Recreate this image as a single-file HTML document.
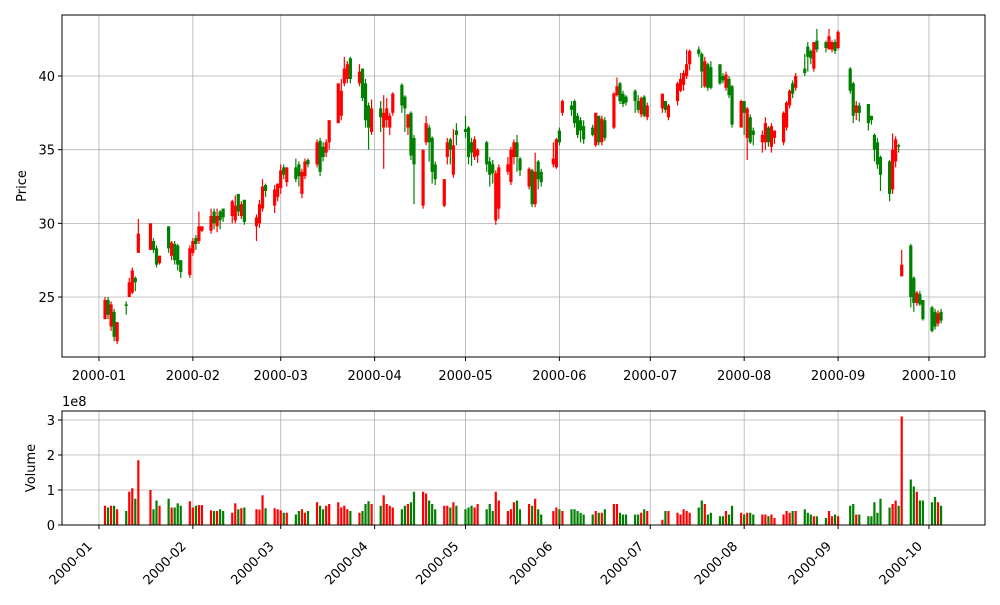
<!DOCTYPE html>
<html><head><meta charset="utf-8"><style>
html,body{margin:0;padding:0;background:#fff;}
svg text{font-family:"DejaVu Sans","Liberation Sans",sans-serif;font-size:13px;fill:#000;}
</style></head><body>
<svg id="chart" width="1000" height="600" viewBox="0 0 1000 600" xmlns="http://www.w3.org/2000/svg">
<rect width="1000" height="600" fill="#fff"/>
<g id="grid"></g><g id="marks"></g><g id="axes"></g>
</svg>
<script>
const dates=["01-03","01-04","01-05","01-06","01-07","01-10","01-11","01-12","01-13","01-14","01-18","01-19","01-20","01-21","01-24","01-25","01-26","01-27","01-28","01-31","02-01","02-02","02-03","02-04","02-07","02-08","02-09","02-10","02-11","02-14","02-15","02-16","02-17","02-18","02-22","02-23","02-24","02-25","02-28","02-29","03-01","03-02","03-03","03-06","03-07","03-08","03-09","03-10","03-13","03-14","03-15","03-16","03-17","03-20","03-21","03-22","03-23","03-24","03-27","03-28","03-29","03-30","03-31","04-03","04-04","04-05","04-06","04-07","04-10","04-11","04-12","04-13","04-14","04-17","04-18","04-19","04-20","04-21","04-24","04-25","04-26","04-27","04-28","05-01","05-02","05-03","05-04","05-05","05-08","05-09","05-10","05-11","05-12","05-15","05-16","05-17","05-18","05-19","05-22","05-23","05-24","05-25","05-26","05-30","05-31","06-01","06-02","06-05","06-06","06-07","06-08","06-09","06-12","06-13","06-14","06-15","06-16","06-19","06-20","06-21","06-22","06-23","06-26","06-27","06-28","06-29","06-30","07-05","07-06","07-07","07-10","07-11","07-12","07-13","07-14","07-17","07-18","07-19","07-20","07-21","07-24","07-25","07-26","07-27","07-28","07-31","08-01","08-02","08-03","08-04","08-07","08-08","08-09","08-10","08-11","08-14","08-15","08-16","08-17","08-18","08-21","08-22","08-23","08-24","08-25","08-28","08-29","08-30","08-31","09-01","09-05","09-06","09-07","09-08","09-11","09-12","09-13","09-14","09-15","09-18","09-19","09-20","09-21","09-22","09-25","09-26","09-27","09-28","09-29","10-02","10-03","10-04","10-05"];
const opens=[23.5,24.8,23,24,22,24.5,25,25.3,26.3,28,28.2,28.8,28.3,27.3,29.8,27.8,28.6,28.5,27.5,26.5,28,29,28.8,29.5,29.5,30.8,29.8,30.8,31,30.5,30.2,32,30.5,31.6,29.8,30,31,32.6,31.2,31.8,32.4,33.8,32.8,33.8,34,32,33.2,34.3,34,35.6,35.2,34.8,35.5,36.8,37.3,39.5,39.8,41.2,39.5,40.5,39.5,38,36.2,37.8,36.5,37,36.5,37.5,39.4,38.6,36.5,37.5,35.8,31.2,35.5,36.5,35.8,34,31.2,34.5,35.7,33.3,36.3,36.4,36.5,35.5,34.5,34.6,35.5,34.2,34,30.2,31,33.5,32.8,34.5,35.5,34.4,32.5,33.6,31.3,34.2,33.5,34,33.8,36.3,37.5,38,38.3,37.3,37,36.6,36.5,35.3,37.3,35.5,37,36.5,38.7,39.5,38.8,38.6,39,38.3,37.4,38.6,37.2,37.8,38.3,37.2,38.3,39,39.4,40,40.8,41.8,41.5,39.3,40.8,40.6,40.8,40,39.2,39.8,39.3,36.5,38.3,35.8,37.2,36.3,35.5,35.5,36.5,35.2,35.8,35.5,36.5,38,39.5,39.2,40.5,42,41.7,40.5,42.4,42.3,41.8,41.8,42.3,41.9,40.5,39.5,37.5,38,38.1,37.3,36,35.5,34.5,34.2,32.3,34.2,35.3,26.4,28.5,26.3,24.6,25.2,24.8,24.3,24,23.2,24];
const highs=[25,25,24.7,24.2,23.3,24.7,26.3,27,26.4,30.3,30,29,28.5,27.8,29.8,28.8,28.8,28.6,27.5,28.5,29,29.2,30.8,29.8,31,31,31,30.9,31,31.6,31.9,32,31.5,31.6,30.6,31.6,33,32.7,32.6,32.7,34,34,33.8,34.4,34.2,33.7,34.4,34.4,35.7,35.8,35.5,35.7,37,39.5,39.8,41.3,41,41.3,40.8,40.5,39.8,38.2,38.4,38.3,38.7,38.5,37.5,38.9,39.5,38.7,37.4,37.6,36,35,37.3,36.7,35.9,34.2,33,35.8,35.8,36.4,36.8,37.3,36.6,35.8,35.9,35.1,35.6,34.5,34.3,33.6,34,34.5,35.2,35.7,36,34.5,33.8,33.7,34.8,34.3,33.7,35.5,35.8,36.5,38.4,38.3,38.4,37.5,37.2,37,36.7,37.5,37.3,37.3,37.2,38.9,39.9,39.6,39,38.7,39.1,38.7,38.6,38.7,38.2,38.8,38.3,38.1,39.6,40.2,40.4,41.8,41.8,42,41.6,41.3,40.9,41,40.8,40.2,40.3,40,39.4,38.4,38.3,37.9,37.4,36.5,36.3,37.2,36.6,36.8,36.3,37.6,38.3,39.1,39.7,40.2,41.5,42.3,41.8,42.3,43.2,42.4,43.2,42.4,42.5,43.1,40.6,39.6,38.3,38.2,38.1,37.3,36.1,35.8,34.6,34.3,36.1,35.9,35.4,28.2,28.6,26.4,25.4,25.4,24.8,24.4,24.2,24.1,24.2];
const lows=[23.5,23.5,22.7,22,21.8,23.8,25,25.2,25.4,28,28.2,28,27,27.2,28,27.5,27.2,26.8,26.3,26.3,27.8,28.2,28.6,29.4,29.3,29.6,29.4,29.6,30.1,30,30,30.5,30.3,29.9,28.8,29.7,30.8,31.8,30.7,31.5,32,33,32.5,32.8,32.5,31.7,33,33.8,33.8,33.2,34.2,34.5,35,36.8,37,39.3,39.5,39.5,39.3,38.3,36.5,35,36,36.2,33.7,36.5,36,37.3,37.5,36.2,36,34.3,31.3,31,35.3,34.2,32.7,32.6,31.1,34,34,33.1,35.3,35.8,34,33.9,34.3,34.1,33.5,32.5,32.7,29.9,30.3,33.3,32.6,34,33.5,33.2,32.3,31.1,31.1,32.3,32.5,33.8,33.7,35.3,37.3,37.3,36.5,35.8,35.5,35.4,35.9,35.2,35.3,35.3,35.6,36.4,38.6,38.1,37.9,38,37.5,37.5,37.2,37.2,37,37.5,37.5,37,38,38.9,39,39.8,40.4,41.3,39.2,39.2,39,39.1,39.4,39.5,39,38.5,36.5,36.5,36,34.3,35.4,35.3,34.8,35,35.2,34.8,35.4,35.3,36.3,37.8,38.5,39,40,40.3,40.8,40.3,41.6,41.6,41.8,41.6,41.5,41.8,38.8,36.8,37,36.9,36.3,36.7,34.2,33.7,32.2,31.5,32,33.8,34.8,26.4,24.3,24,24.4,24.4,23.4,22.6,22.8,23,23.2];
const closes=[24.8,23.8,24.5,22.3,23.3,24.4,26,26.8,26,29.3,30,28.2,27.2,27.8,28.3,28.7,27.5,27.2,26.7,28.3,28.8,28.6,29.8,29.8,30.5,30,30.5,30.2,30.4,31.5,31.2,30.8,31.3,30.1,30.4,31.3,32.5,32.2,32.3,32.7,33.6,33.3,33.8,33,33.2,33.5,34.2,34,35.5,33.5,34.5,35.5,37,39.5,39,40.5,40.8,39.8,40.3,38.5,37,36.5,37.8,37.2,37.5,37.8,37.3,38.8,38,37.8,37.4,34.6,34,35,36.8,35.5,33.5,33,33,35.5,35,35.3,36,36.2,34.5,34.8,35.7,35,34,33.3,33.4,33.4,33.8,34,35,35.5,34.5,33.6,33.7,31.3,33.5,33,32.8,34.4,35.7,35.5,38.3,37.7,36.8,36,36.3,35.7,36,37.5,35.5,37.1,35.8,38.8,39.3,38.3,38.1,38.2,38.3,37.7,38.5,37.3,38,38.8,37.7,38,39.5,39.8,40.2,40.8,41.7,41.5,40.3,41,39.2,39.2,39.5,39.7,40.1,38.7,36.7,38.3,37.5,37.8,35.5,36,36,36.8,35.5,36.6,36.3,37.5,38.2,39,38.8,40,40.2,41.3,41.2,42.3,41.8,41.9,42.7,42.3,41.7,43,39,37.3,38,37.5,36.8,37,35,34,33.3,32,35,35.7,35.2,27.2,25,24.6,25.3,24.5,23.5,22.7,23,23.9,23.4];
const volumes=[55,50,55,55,45,40,95,105,75,185,100,45,70,55,75,50,50,62,55,68,50,55,57,57,42,40,40,45,40,35,62,45,48,50,45,44,85,48,48,45,42,35,35,30,40,45,35,40,65,55,45,55,60,65,50,55,45,40,35,40,60,68,60,55,85,60,55,50,45,55,60,65,95,95,90,70,60,45,55,55,50,65,55,45,50,55,50,60,45,60,40,95,70,40,45,65,70,45,60,55,75,45,30,40,50,45,40,45,45,40,35,30,30,40,35,35,45,60,60,35,30,30,30,30,35,45,40,15,40,40,35,30,45,40,35,50,70,60,30,35,25,25,40,30,55,35,30,35,35,30,30,30,25,30,20,30,40,35,40,40,45,35,30,25,25,20,40,25,30,25,55,60,30,30,25,25,65,35,75,50,60,70,55,310,130,110,95,70,70,65,80,65,55];
const priceTicks=[25,30,35,40];
const volTicks=[0,1,2,3];
const monthTicks=["2000-01","2000-02","2000-03","2000-04","2000-05","2000-06","2000-07","2000-08","2000-09","2000-10"];

const NS="http://www.w3.org/2000/svg";
const L=62,R=985,T1=15,B1=357,T2=411,B2=525;
const D0=-12.2,D1=292.5;
function doy(str){const p=str.split("-").map(Number);const dt=Date.UTC(2000,p[0]-1,p[1]);return (dt-Date.UTC(2000,0,1))/86400000;}
function xs(d){return L+(d-D0)/(D1-D0)*(R-L);}
const P0=20.93,P1=44.14;
function yp(v){return B1-(v-P0)/(P1-P0)*(B1-T1);}
const V1=3.257;
function yv(v){return B2-(v/100)/V1*(B2-T2);}
function mk(tag,attrs,parent){const e=document.createElementNS(NS,tag);for(const k in attrs)e.setAttribute(k,attrs[k]);parent.appendChild(e);return e;}
const grid=document.getElementById('grid'),marks=document.getElementById('marks'),axes=document.getElementById('axes');

monthTicks.forEach(m=>{const x=xs(doy(m.slice(5)+"-01"));
 let g=mk('line',{x1:x,x2:x,y1:T1,y2:B1,stroke:'#b0b0b0','stroke-width':0.8},grid);
 
 g=mk('line',{x1:x,x2:x,y1:T2,y2:B2,stroke:'#b0b0b0','stroke-width':0.8},grid);
 
});
priceTicks.forEach(v=>{const y=yp(v);const g=mk('line',{x1:L,x2:R,y1:y,y2:y,stroke:'#b0b0b0','stroke-width':0.8},grid);
 });
volTicks.forEach(v=>{const y=yv(v*100);const g=mk('line',{x1:L,x2:R,y1:y,y2:y,stroke:'#b0b0b0','stroke-width':0.8},grid);
 });

dates.forEach((d,i)=>{
 const x=xs(doy(d));const up=closes[i]>=opens[i];const col=up?'#ff0000':'#008000';
 const w=mk('line',{x1:x,x2:x,y1:yp(highs[i]),y2:yp(lows[i]),stroke:col,'stroke-width':1.2},marks);
 
 const yt=yp(Math.max(opens[i],closes[i])),yb=yp(Math.min(opens[i],closes[i]));
 const b=mk('rect',{x:x-1.6,y:yt,width:3.2,height:Math.max(1,yb-yt),fill:col},marks);
 
 const vy=yv(volumes[i]);
 const vb=mk('rect',{x:x-1.1,y:vy,width:2.2,height:B2-vy,fill:col},marks);
 
});

let f=mk('rect',{x:L,y:T1,width:R-L,height:B1-T1,fill:'none',stroke:'#000','stroke-width':1},axes);

f=mk('rect',{x:L,y:T2,width:R-L,height:B2-T2,fill:'none',stroke:'#000','stroke-width':1},axes);


monthTicks.forEach(m=>{const x=xs(doy(m.slice(5)+"-01"));
 let t=mk('line',{x1:x,x2:x,y1:B1,y2:B1+4,stroke:'#000'},axes);
 let tx=mk('text',{x:x,y:B1+23,'text-anchor':'middle'},axes);tx.textContent=m;
 
 t=mk('line',{x1:x,x2:x,y1:B2,y2:B2+4,stroke:'#000'},axes);
 const ax=x-6,ay=B2+22;
 tx=mk('text',{x:ax,y:ay,'text-anchor':'end',transform:`rotate(-45 ${ax} ${ay})`},axes);tx.textContent=m;
 
});
priceTicks.forEach(v=>{const y=yp(v);
 let t=mk('line',{x1:L-4,x2:L,y1:y,y2:y,stroke:'#000'},axes);
 const tx=mk('text',{x:L-7,y:y+5,'text-anchor':'end'},axes);tx.textContent=v;
 });
volTicks.forEach(v=>{const y=yv(v*100);
 let t=mk('line',{x1:L-4,x2:L,y1:y,y2:y,stroke:'#000'},axes);
 const tx=mk('text',{x:L-7,y:y+5,'text-anchor':'end'},axes);tx.textContent=v;
 });
let tt=mk('text',{x:62,y:406},axes);tt.textContent='1e8';

tt=mk('text',{x:26,y:186,'text-anchor':'middle',transform:'rotate(-90 26 186)'},axes);tt.textContent='Price';

tt=mk('text',{x:35,y:468,'text-anchor':'middle',transform:'rotate(-90 35 468)'},axes);tt.textContent='Volume';

</script>
</body></html>
